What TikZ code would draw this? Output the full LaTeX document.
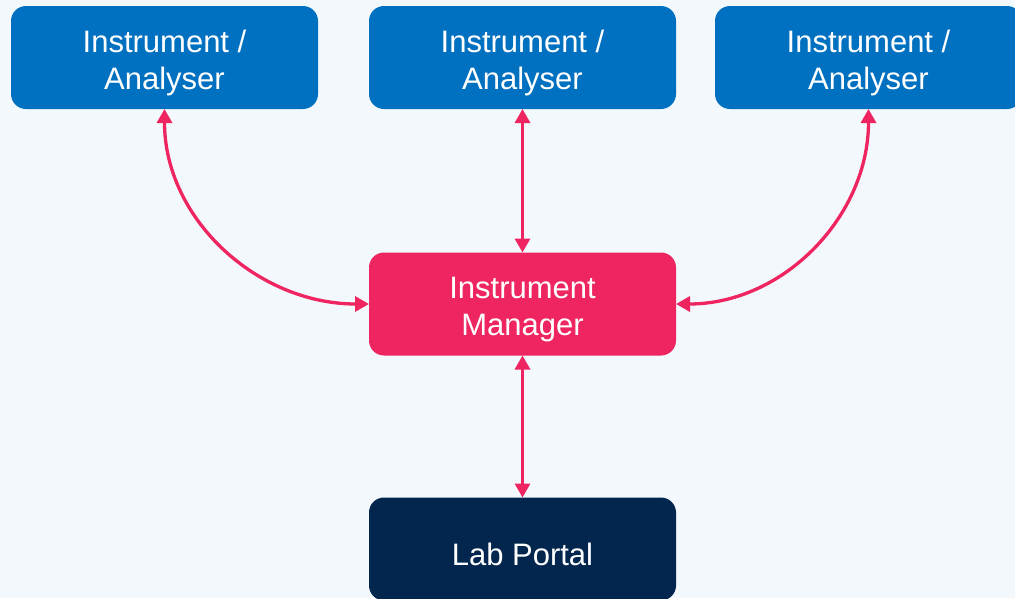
\documentclass[tikz,border=0pt]{standalone}
\usepackage{fontspec}
\setmainfont{Liberation Sans}
\usetikzlibrary{arrows.meta}
\definecolor{bgc}{HTML}{F3F8FC}
\definecolor{instblue}{HTML}{0070C0}
\definecolor{mgrpink}{HTML}{EE2560}
\definecolor{portalnavy}{HTML}{03264F}
\newcommand\dnstrut{\rule{0pt}{33pt}}
\tikzset{
  box/.style={rounded corners=15pt, minimum width=307pt, minimum height=103pt,
    text=white, align=center, inner sep=0pt, outer sep=0pt,
    font=\fontsize{31}{37}\selectfont},
  link/.style={mgrpink, line width=3.3pt,
    {Triangle[length=14pt,width=15pt]}-{Triangle[length=14pt,width=15pt]}}
}
\begin{document}
\begin{tikzpicture}[x=1pt,y=-1pt]
\fill[bgc] (0,0) rectangle (1015,598);
\useasboundingbox (0,0) rectangle (1015,598);
\node[box, fill=instblue] (i1) at (164.5,57.5) {\dnstrut Instrument /\\Analyser};
\node[box, fill=instblue] (i2) at (522.5,57.5) {\dnstrut Instrument /\\Analyser};
\node[box, fill=instblue] (i3) at (868.5,57.5) {\dnstrut Instrument /\\Analyser};
\node[box, fill=mgrpink] (im) at (522.5,304) {\dnstrut Instrument\\Manager};
\node[box, fill=portalnavy] (lp) at (522.5,549) {\dnstrut Lab Portal};
\draw[link] (i1.south) to[out=-90,in=180] (im.west);
\draw[link] (i2.south) -- (im.north);
\draw[link] (i3.south) to[out=-90,in=0] (im.east);
\draw[link] (im.south) -- (lp.north);
\end{tikzpicture}
\end{document}
